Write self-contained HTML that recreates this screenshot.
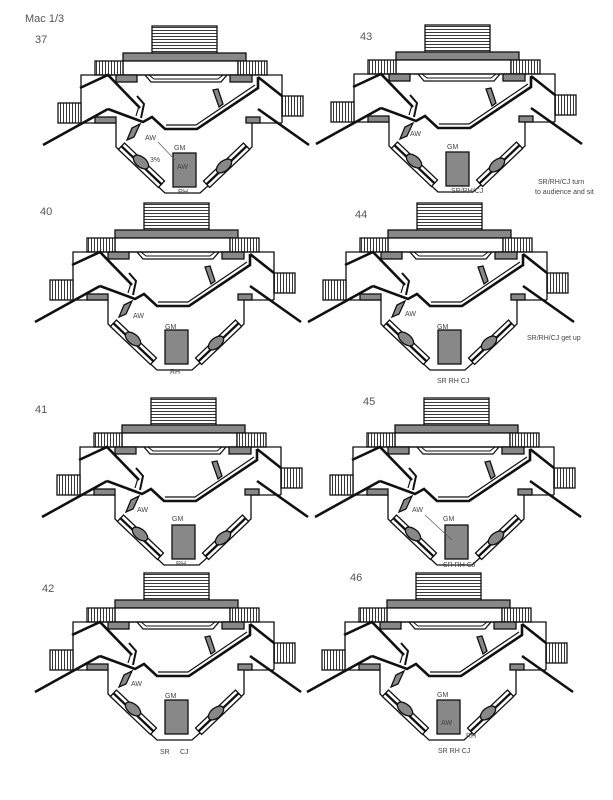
<!DOCTYPE html>
<html><head><meta charset="utf-8"><style>
html,body{margin:0;padding:0;background:#fff;}
svg{display:block;}
text{font-family:"Liberation Sans",sans-serif;fill:#333;}
.h{font-size:7px;fill:#444;}
.n{font-size:11px;fill:#555;}
</style></head><body>
<svg width="613" height="800" viewBox="0 0 613 800" xmlns="http://www.w3.org/2000/svg">
<defs>
<pattern id="hl" width="4" height="3" patternUnits="userSpaceOnUse"><rect width="4" height="3" fill="#fff"/><line x1="0" y1="0.5" x2="4" y2="0.5" stroke="#222" stroke-width="0.9"/></pattern>
<pattern id="vl" width="3" height="4" patternUnits="userSpaceOnUse"><rect width="3" height="4" fill="#fff"/><line x1="0.5" y1="0" x2="0.5" y2="4" stroke="#222" stroke-width="0.9"/></pattern>
<g id="d" fill="none" stroke="#111" stroke-width="1.3" stroke-linejoin="miter">
  <rect x="152" y="26" width="65" height="27" fill="url(#hl)"/>
  <rect x="123" y="53" width="123" height="8" fill="#888"/>
  <rect x="123" y="61" width="115" height="14" fill="#fff"/>
  <rect x="95" y="61" width="28" height="14" fill="url(#vl)"/>
  <rect x="238" y="61" width="29" height="14" fill="url(#vl)"/>
  <polyline points="81,123 81,75 282,75 282,123"/>
  <rect x="58" y="103" width="23" height="20" fill="url(#vl)"/>
  <rect x="282" y="96" width="21" height="20" fill="url(#vl)"/>
  <line x1="81" y1="123" x2="116" y2="123"/>
  <line x1="252" y1="123" x2="282" y2="123"/>
  <rect x="116" y="75" width="21" height="7" fill="#888"/>
  <rect x="230" y="75" width="22" height="7" fill="#888"/>
  <rect x="95" y="117" width="21" height="6" fill="#888"/>
  <rect x="246" y="117" width="14" height="6" fill="#888"/>
  <polyline points="145,75 151,82 221,82 227,75"/>
  <polyline points="149,75 154,79 218,79 223,75" stroke-width="1"/>
  <g stroke-width="2.6">
    <line x1="43" y1="145" x2="108" y2="109"/>
    <polyline points="108,109 143,122 152,117 165,129 197,129 258,88 258,77"/>
    <line x1="258" y1="109" x2="309" y2="145"/>
    <polyline points="80,88 108,75 140,108"/>
    <line x1="258" y1="77" x2="282" y2="96"/>
  </g>
  <polyline points="166,125 196,125 255,85" stroke-width="1.2"/>
  <polyline points="137,96 144,104 141,118" stroke-width="2"/>
  <polyline points="133,100 139,106 136,116" stroke-width="1.2"/>
  <polygon points="213,90 218,89 223,104 219,107" fill="#888"/>
  <polygon points="127,140 132,128 140,124 134,137" fill="#888"/>
  <polyline points="116,123 116,147 165,193 200,193 252,147 252,123"/>
  <polygon points="118.4,149.5 158.4,187.5 161.1,184.6 121.1,146.6" fill="#fff"/>
  <polygon points="121.8,145.9 161.8,183.9 164.5,181 124.5,143" fill="#fff"/>
  <polygon points="249.6,149.5 209.6,187.5 206.9,184.6 246.9,146.6" fill="#fff"/>
  <polygon points="246.2,145.9 206.2,183.9 203.5,181 243.5,143" fill="#fff"/>
  <ellipse cx="141" cy="162" rx="9" ry="5" transform="rotate(40 141 162)" fill="#888"/>
  <ellipse cx="224" cy="166" rx="9" ry="5" transform="rotate(-40 224 166)" fill="#888"/>
  <rect x="173" y="153" width="23" height="34" fill="#888"/>
</g>
</defs>
<use href="#d"/>
<use href="#d" transform="translate(273,-1)"/>
<use href="#d" transform="translate(-8,177)"/>
<use href="#d" transform="translate(265,177)"/>
<use href="#d" transform="translate(-1,372)"/>
<use href="#d" transform="translate(272,372)"/>
<use href="#d" transform="translate(-8,547)"/>
<use href="#d" transform="translate(264,547)"/>

<text x="25" y="22" class="n">Mac 1/3</text>
<text x="35" y="43" class="n">37</text>
<text x="360" y="40" class="n">43</text>
<text x="40" y="215" class="n">40</text>
<text x="355" y="218" class="n">44</text>
<text x="35" y="413" class="n">41</text>
<text x="363" y="405" class="n">45</text>
<text x="42" y="592" class="n">42</text>
<text x="350" y="581" class="n">46</text>

<text x="145" y="140" class="h">AW</text>
<text x="174" y="150" class="h">GM</text>
<text x="177" y="169" class="h">AW</text>
<text x="150" y="162" class="h">3%</text>
<text x="178" y="194" class="h">RH</text>
<line x1="158" y1="142" x2="175" y2="160" stroke="#555" stroke-width="0.7"/>

<text x="410" y="136" class="h">AW</text>
<text x="447" y="149" class="h">GM</text>
<text x="451" y="193" class="h">SR/RH/CJ</text>
<text x="538" y="184" class="h">SR/RH/CJ turn</text>
<text x="535" y="194" class="h">to audience and sit</text>

<text x="133" y="318" class="h">AW</text>
<text x="165" y="329" class="h">GM</text>
<text x="170" y="374" class="h">RH</text>

<text x="405" y="316" class="h">AW</text>
<text x="437" y="329" class="h">GM</text>
<text x="527" y="340" class="h">SR/RH/CJ get up</text>
<text x="437" y="383" class="h">SR RH CJ</text>

<text x="137" y="512" class="h">AW</text>
<text x="172" y="521" class="h">GM</text>
<text x="176" y="566" class="h">RH</text>

<text x="412" y="512" class="h">AW</text>
<text x="443" y="521" class="h">GM</text>
<text x="443" y="567" class="h">SR RH CJ</text>
<line x1="425" y1="515" x2="452" y2="540" stroke="#555" stroke-width="0.7"/>

<text x="131" y="686" class="h">AW</text>
<text x="165" y="698" class="h">GM</text>
<text x="160" y="754" class="h">SR</text>
<text x="180" y="754" class="h">CJ</text>

<text x="437" y="697" class="h">GM</text>
<text x="441" y="725" class="h">AW</text>
<text x="438" y="753" class="h">SR RH CJ</text>
<text x="466" y="738" class="h">RH</text>
</svg>
</body></html>
